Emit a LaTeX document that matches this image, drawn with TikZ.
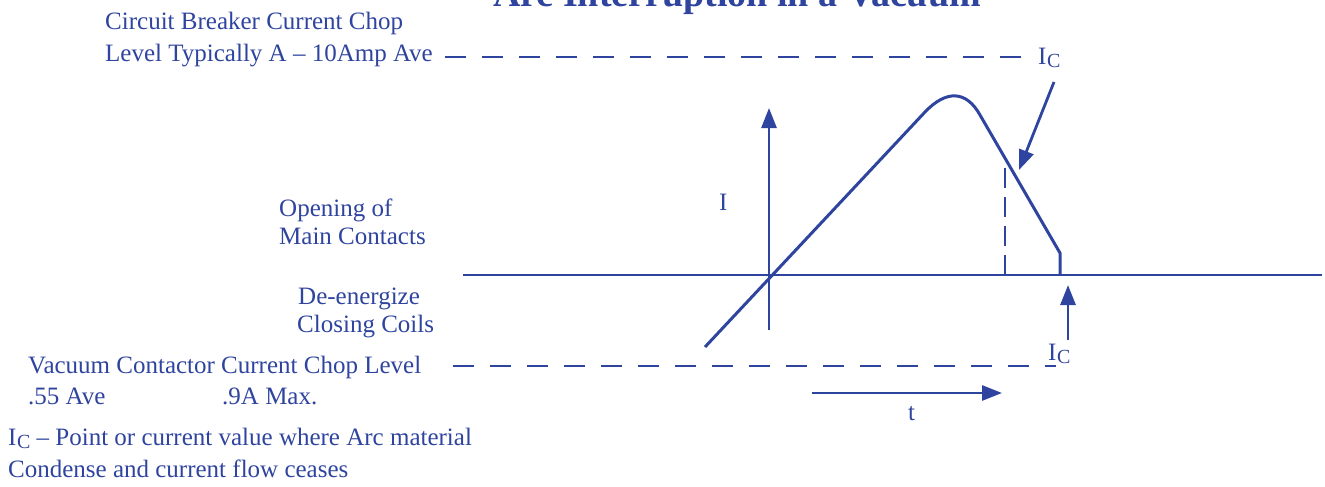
\documentclass[tikz,border=0pt]{standalone}
\usepackage{fontspec}
\setmainfont{Liberation Serif}
\usetikzlibrary{arrows.meta}
\definecolor{ink}{RGB}{46,68,158}
\newcommand{\Icur}{I\kern0.6pt\raisebox{-0.3ex}{\scalebox{0.8}{C}}}
\begin{document}
\begin{tikzpicture}[x=1pt,y=-1pt,
  lbl/.style={text=ink, font=\fontsize{25}{29}\selectfont, inner sep=0pt, anchor=base west},
  axis/.style={draw=ink, line width=2.8pt},
  curve/.style={draw=ink, line width=3pt, line join=round},
  chop/.style={draw=ink, line width=2.2pt, dash pattern=on 21pt off 16pt},
  arr/.style={draw=ink, line width=2.8pt, -{Triangle[length=20pt,width=15pt]}}]
\clip (0,0) rectangle (1325,487);
\useasboundingbox (0,0) rectangle (1325,487);
% title
\node[text=ink, font=\fontsize{38}{44}\selectfont\bfseries, inner sep=0pt, anchor=base] (title) at (737,7) {Arc Interruption in a Vacuum};
% left labels
\node[lbl] (cb1) at (105,30) {Circuit Breaker Current Chop};
\node[lbl] (cb2) at (105,62) {Level Typically A -- 10Amp Ave};
\node[lbl] (icTop) at (1038,64) {\Icur};
\node[lbl] (open1) at (279,216) {Opening of};
\node[lbl] (open2) at (279,244) {Main Contacts};
\node[lbl] (de1) at (298,304) {De-energize};
\node[lbl] (de2) at (297,332) {Closing Coils};
\node[lbl] (vc1) at (28,373) {Vacuum Contactor Current Chop Level};
\node[lbl] (vc2) at (28,404) {.55 Ave};
\node[lbl] (vc3) at (222,404) {.9A Max.};
\node[lbl] (note1) at (8,445) {\Icur\ -- Point or current value where Arc material};
\node[lbl] (note2) at (8,477) {Condense and current flow ceases};
\node[lbl] (Ilab) at (719,210) {I};
\node[lbl] (tlab) at (908,420) {t};
\node[lbl] (icBot) at (1048,360) {\Icur};
% coordinates
\coordinate (topL) at (445,57);
\coordinate (topR) at (1024,57);
\coordinate (botL) at (453,366);
\coordinate (botR) at (1056,366);
\coordinate (xL) at (463,275);
\coordinate (xR) at (1322,275);
\coordinate (yB) at (769,330);
\coordinate (yT) at (769,108);
\coordinate (c0) at (705,347);
\coordinate (c1) at (925,112);
\coordinate (c2) at (980,115);
\coordinate (c3) at (1060,253);
\coordinate (c4) at (1060,275);
\coordinate (dT) at (1005,158);
\coordinate (dB) at (1005,275);
\coordinate (icA) at (1054,82);
\coordinate (icAt) at (1019,170);
\coordinate (icB) at (1068,340);
\coordinate (icBt) at (1068,285);
\coordinate (tA) at (812,393);
\coordinate (tB) at (1002,393);
% chop level lines
\draw[chop] (topL) -- (topR);
\draw[chop] (botL) -- (botR);
% axes
\draw[axis] (xL) -- (xR);
\draw[arr] (yB) -- (yT);
% current curve
\draw[curve] (c0) -- (c1) .. controls (946,90) and (966,90) .. (c2) -- (c3) -- (c4);
\draw[draw=ink, line width=2.8pt, dash pattern=on 20pt off 9pt] (dB) -- (dT);
% Ic arrows
\draw[arr] (icA) -- (icAt);
\draw[arr] (icB) -- (icBt);
% time arrow
\draw[arr] (tA) -- (tB);
\end{tikzpicture}
\end{document}
